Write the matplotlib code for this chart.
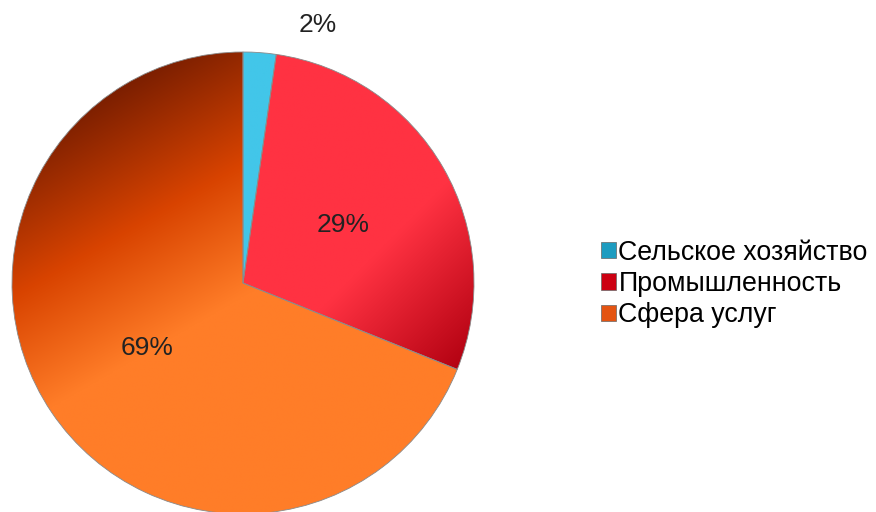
# Pie chart: employment structure by sector

import matplotlib.pyplot as plt
import matplotlib.colors as mcolors
import numpy as np

plt.rcParams['font.family'] = ['Liberation Sans', 'DejaVu Sans']

labels = ['Сельское хозяйство', 'Промышленность', 'Сфера услуг']
values = [2.3, 28.8, 68.9]
pct_text = ['2%', '29%', '69%']

# gradient stops (position, colour) per slice and the gradient direction (deg)
stops = [
    [(0.0, '#42c6e9'), (1.0, '#42c6e9')],
    [(0.0, '#ff3242'), (0.32, '#ff3242'), (0.95, '#b00010')],
    [(-0.05, '#ff7d28'), (0.45, '#d84300'), (1.0, '#7c1f00')],
]
direction = [0, -45, 120]
legend_col = ['#1d9cc0', '#cc0012', '#e45412']

W, H = 876, 512
cx, cy, R = 243, 283, 231

fig = plt.figure(figsize=(W / 100, H / 100), dpi=100)
ax = fig.add_axes([0, 0, 1, 1])

wedges, _ = ax.pie(values, startangle=90, counterclock=False,
                   wedgeprops=dict(edgecolor='#8a8a8a', linewidth=0.6))

n = 400
gx, gy = np.meshgrid(np.linspace(-1, 1, n), np.linspace(1, -1, n))
for i, w in enumerate(wedges):
    th = np.deg2rad(direction[i])
    u = gx * np.cos(th) + gy * np.sin(th)
    pos = [p for p, _ in stops[i]]
    cols = np.array([mcolors.to_rgb(c) for _, c in stops[i]])
    img = np.dstack([np.interp(u, pos, cols[:, k]) for k in range(3)])
    w.set_facecolor('none')
    im = ax.imshow(img, extent=(-1, 1, -1, 1), zorder=w.get_zorder() - 0.1,
                   interpolation='bilinear')
    im.set_clip_path(w)

# percent labels
angles = np.cumsum([0] + values)
for i, txt in enumerate(pct_text):
    mid = np.deg2rad(90 - (angles[i] + angles[i + 1]) / 2 * 3.6)
    x, y = 0.5 * np.cos(mid), 0.5 * np.sin(mid)
    if values[i] < 5:
        x, y = 0.325, 1.117
    ax.text(x, y, txt, ha='center', va='center', fontsize=19, color='#222222')

ax.set_xlim(-cx / R, (W - cx) / R)
ax.set_ylim(-(H - cy) / R, cy / R)
ax.set_aspect('auto')
ax.axis('off')

handles = [plt.Rectangle((0, 0), 1, 1, facecolor=c, edgecolor='#666666', linewidth=0.5)
           for c in legend_col]
fig.legend(handles, labels, loc='center left', bbox_to_anchor=(601 / W, 1 - 284 / H),
           frameon=False, fontsize=19.3, handlelength=0.55, handleheight=0.55,
           handletextpad=0.1, labelspacing=0.2, borderaxespad=0, borderpad=0)

fig.savefig('out.png', dpi=100)
